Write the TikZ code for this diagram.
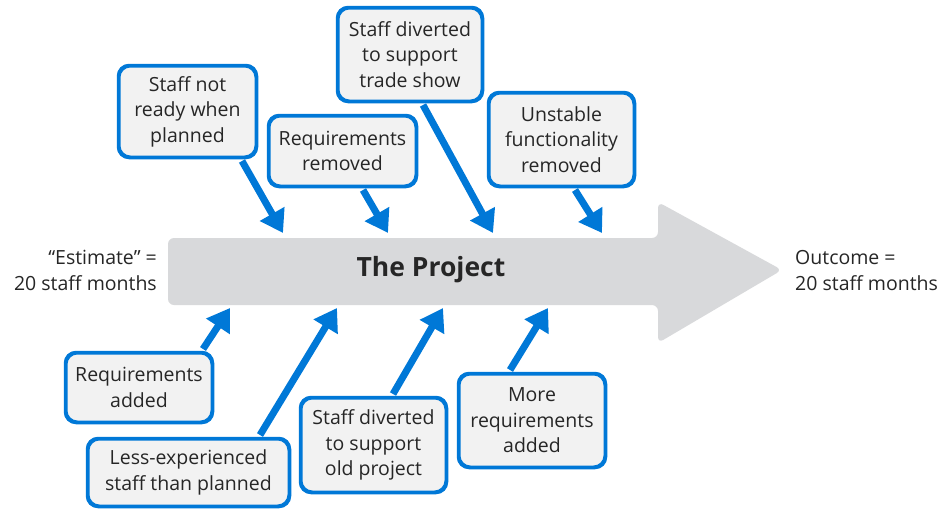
\documentclass[tikz,border=0pt]{standalone}
\usepackage{fontspec}
\setmainfont{Open Sans}
\usetikzlibrary{arrows.meta}
\definecolor{bblue}{RGB}{0,120,215}
\definecolor{bfill}{RGB}{242,242,242}
\definecolor{agray}{RGB}{216,217,219}
\definecolor{tcol}{RGB}{38,38,38}
\tikzset{
  box/.style={draw=bblue, line width=2.5pt, fill=bfill, rounded corners=11pt,
    inner sep=0pt, align=center, text=tcol,
    font=\fontsize{19.5}{25.5}\selectfont},
  arr/.style={draw=bblue, line width=7pt, -{Triangle[length=22pt,width=27pt]}},
  side/.style={text=tcol, inner sep=0pt, font=\fontsize{19.5}{25.5}\selectfont}
}
\begin{document}
\begin{tikzpicture}[x=1pt,y=-1pt]
\useasboundingbox (0,0) rectangle (944,509);
% big arrow
\path[fill=agray, rounded corners=6pt] (168,238) -- (658,238) -- (658,202) -- (782,270) -- (658,343) -- (658,305) -- (168,305) -- cycle;
\node[text=tcol, font=\bfseries\fontsize{26.5}{30}\selectfont] (proj) at (431,270) {The Project};
\node[side, align=right, anchor=east] (est) at (157,270.5) {“Estimate” =\\20 staff months};
\node[side, align=left, anchor=west] (out) at (795,270.5) {Outcome =\\20 staff months};
% tips
\coordinate (t1) at (283,233);
\coordinate (t2) at (388,233);
\coordinate (t3) at (493,233);
\coordinate (t4) at (602,233);
\coordinate (t5) at (230,308);
\coordinate (t6) at (337,308);
\coordinate (t7) at (443,308);
\coordinate (t8) at (548,308);
% box centres
\path
  (187.5,111.5) coordinate (c1)
  (342.5,151) coordinate (c2)
  (410,54.5) coordinate (c3)
  (561.5,139.5) coordinate (c4)
  (139,387.5) coordinate (c5)
  (188.5,472.5) coordinate (c6)
  (373.5,445) coordinate (c7)
  (532,420.5) coordinate (c8);
\node[box, minimum width=136.5pt, minimum height=90.5pt] (b1) at (c1) {Staff not\\ready when\\planned};
\node[box, minimum width=146.5pt, minimum height=69.5pt] (b2) at (c2) {Requirements\\removed};
\node[box, minimum width=143.5pt, minimum height=92.5pt] (b3) at (c3) {Staff diverted\\to support\\trade show};
\node[box, minimum width=144.5pt, minimum height=92.5pt] (b4) at (c4) {Unstable\\functionality\\removed};
\node[box, minimum width=145.5pt, minimum height=68.5pt] (b5) at (c5) {Requirements\\added};
\node[box, minimum width=200.5pt, minimum height=66.5pt] (b6) at (c6) {Less-experienced\\staff than planned};
\node[box, minimum width=144.5pt, minimum height=93.5pt] (b7) at (c7) {Staff diverted\\to support\\old project};
\node[box, minimum width=145.5pt, minimum height=92.5pt] (b8) at (c8) {More\\requirements\\added};
% arrows
\draw[arr] ([xshift=54.5pt,yshift=-3pt]b1.south) -- (t1);
\draw[arr] ([xshift=20.5pt,yshift=-3pt]b2.south) -- (t2);
\draw[arr] ([xshift=13pt,yshift=-3pt]b3.south) -- (t3);
\draw[arr] ([xshift=13.5pt,yshift=-3pt]b4.south) -- (t4);
\draw[arr] ([xshift=64pt,yshift=3pt]b5.north) -- (t5);
\draw[arr] ([xshift=71.5pt,yshift=3pt]b6.north) -- (t6);
\draw[arr] ([xshift=19.5pt,yshift=3pt]b7.north) -- (t7);
\draw[arr] ([xshift=-22pt,yshift=3pt]b8.north) -- (t8);
% redraw box borders on top of arrow starts
\foreach \b in {b1,b2,b3,b4,b5,b6,b7,b8}{
  \draw[draw=bblue, line width=2.5pt, rounded corners=11pt] (\b.south west) rectangle (\b.north east);
}
\end{tikzpicture}
\end{document}
